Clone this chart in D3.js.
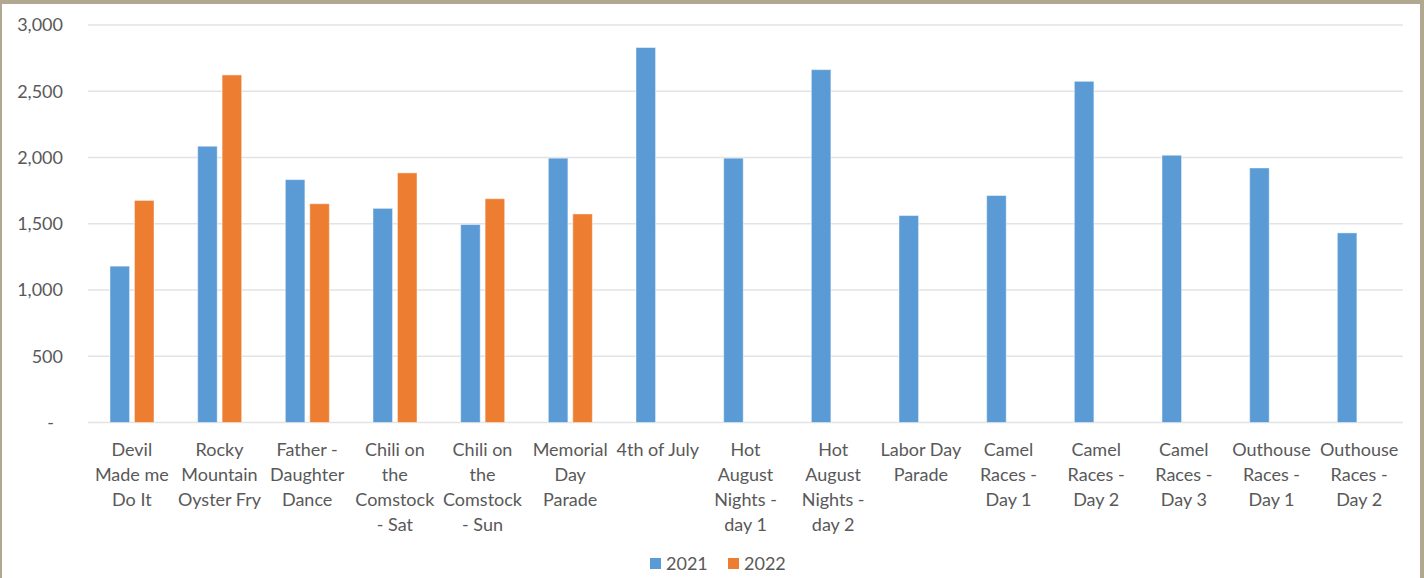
<!DOCTYPE html>
<html>
<head>
<meta charset="utf-8">
<script src="https://cdn.jsdelivr.net/npm/d3@7"></script>
<style>
  html, body { margin: 0; padding: 0; background: #ffffff; }
  svg { display: block; }
  text { font-family: Lato, "Noto Sans", sans-serif; fill: #595959; }
</style>
</head>
<body>
<svg id="chart"></svg>
<script>
// chart values
const categories = [
  "Devil Made me Do It", "Rocky Mountain Oyster Fry", "Father - Daughter Dance",
  "Chili on the Comstock - Sat", "Chili on the Comstock - Sun", "Memorial Day Parade",
  "4th of July", "Hot August Nights - day 1", "Hot August Nights - day 2",
  "Labor Day Parade", "Camel Races - Day 1", "Camel Races - Day 2",
  "Camel Races - Day 3", "Outhouse Races - Day 1", "Outhouse Races - Day 2"
];
// tick labels as they wrap in the picture
const tickLines = [
  ["Devil", "Made me", "Do It"],
  ["Rocky", "Mountain", "Oyster Fry"],
  ["Father -", "Daughter", "Dance"],
  ["Chili on", "the", "Comstock", "- Sat"],
  ["Chili on", "the", "Comstock", "- Sun"],
  ["Memorial", "Day", "Parade"],
  ["4th of July"],
  ["Hot", "August", "Nights -", "day 1"],
  ["Hot", "August", "Nights -", "day 2"],
  ["Labor Day", "Parade"],
  ["Camel", "Races -", "Day 1"],
  ["Camel", "Races -", "Day 2"],
  ["Camel", "Races -", "Day 3"],
  ["Outhouse", "Races -", "Day 1"],
  ["Outhouse", "Races -", "Day 2"]
];
const seriesNames = ["2021", "2022"];
const values2021 = [1180, 2085, 1833, 1616, 1494, 1995, 2830, 1995, 2663, 1562, 1713, 2575, 2017, 1921, 1431];
const values2022 = [1676, 2623, 1651, 1884, 1689, 1574, null, null, null, null, null, null, null, null, null];
const yTicks = [0, 500, 1000, 1500, 2000, 2500, 3000];
const colors = ["#5b9bd5", "#ed7d31"];

const width = 1424;
const height = 578;
const border = "#b2a791";

const svg = d3.select("#chart").attr("width", width).attr("height", height);

// frame round the picture
svg.append("rect").attr("x", 0).attr("y", 0).attr("width", width).attr("height", 4).attr("fill", border);
svg.append("rect").attr("x", 0).attr("y", 0).attr("width", 2).attr("height", height).attr("fill", border);
svg.append("rect").attr("x", 1420).attr("y", 0).attr("width", 4).attr("height", height).attr("fill", border);

const x = d3.scaleBand().domain(categories).range([88, 1403]).padding(0);
const x1 = d3.scaleBand().domain(seriesNames).range([22, 66]).paddingInner(0.2).paddingOuter(0);
const y = d3.scaleLinear().domain([0, 3000]).range([422.5, 25]);

// gridlines
svg.append("g")
  .selectAll("line")
  .data(yTicks)
  .join("line")
  .attr("x1", 88)
  .attr("x2", 1403)
  .attr("y1", d => y(d))
  .attr("y2", d => y(d))
  .attr("stroke", "#e3e3e3")
  .attr("stroke-width", 1.5);

// y axis labels
const fmt = d3.format(",");
svg.append("g")
  .selectAll("text")
  .data(yTicks)
  .join("text")
  .attr("x", d => d === 0 ? 54 : 63)
  .attr("y", d => y(d))
  .attr("dy", "0.35em")
  .attr("text-anchor", "end")
  .style("font-size", "18px")
  .text(d => d === 0 ? "-" : fmt(d));

// bars
const rows = categories.map((c, i) => ({ cat: c, vals: [values2021[i], values2022[i]] }));
const groups = svg.append("g")
  .selectAll("g")
  .data(rows)
  .join("g")
  .attr("transform", d => `translate(${x(d.cat)},0)`);

groups.selectAll("rect")
  .data(d => d.vals.map((v, k) => ({ key: seriesNames[k], v: v, k: k })).filter(d => d.v != null))
  .join("rect")
  .attr("x", d => x1(d.key))
  .attr("width", x1.bandwidth())
  .attr("y", d => y(d.v))
  .attr("height", d => y(0) - y(d.v))
  .attr("fill", d => colors[d.k])
  .attr("stroke", "rgba(255,255,255,0.45)")
  .attr("stroke-width", 1);

// category labels
const labels = svg.append("g")
  .selectAll("text")
  .data(categories)
  .join("text")
  .attr("text-anchor", "middle")
  .style("font-size", "18px")
  .attr("x", d => x(d) + x.bandwidth() / 2)
  .attr("y", 456);

labels.selectAll("tspan")
  .data((d, i) => tickLines[i])
  .join("tspan")
  .attr("x", function () { return this.parentNode.getAttribute("x"); })
  .attr("dy", (d, i) => i === 0 ? 0 : 25)
  .text(d => d);

// legend
const legend = svg.append("g");
const legendX = [650, 728];
seriesNames.forEach((s, i) => {
  legend.append("rect")
    .attr("x", legendX[i])
    .attr("y", 558)
    .attr("width", 11)
    .attr("height", 11)
    .attr("fill", colors[i]);
  legend.append("text")
    .attr("x", legendX[i] + 16)
    .attr("y", 564)
    .attr("dy", "0.35em")
    .style("font-size", "18px")
    .text(s);
});
</script>
</body>
</html>
